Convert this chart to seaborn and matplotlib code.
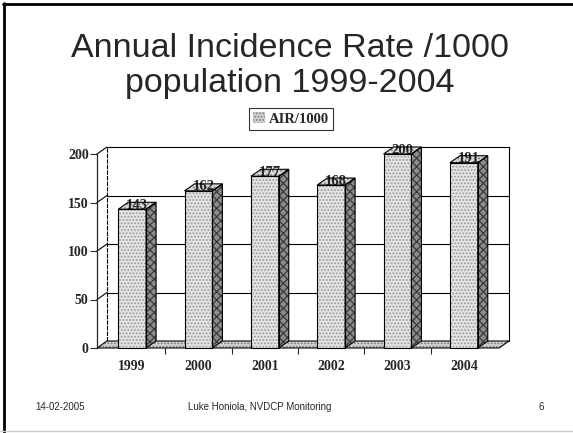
import matplotlib
matplotlib.use("Agg")
import matplotlib.pyplot as plt
from matplotlib.patches import Polygon, Rectangle, Patch
from matplotlib.lines import Line2D
from matplotlib.ticker import FixedLocator
import seaborn as sns
import pandas as pd

# Annual incidence rate per 1000 population
years = ["1999", "2000", "2001", "2002", "2003", "2004"]
air_values = [143, 162, 177, 168, 200, 191]
y_ticks = [0, 50, 100, 150, 200]
series_name = "AIR/1000"

sns.set_style("ticks")
plt.rcParams["font.family"] = ["Liberation Serif", "DejaVu Serif"]
plt.rcParams["hatch.linewidth"] = 0.9

W, H, DPI = 573, 433, 100
fig = plt.figure(figsize=(W / DPI, H / DPI), dpi=DPI)

# axes placed in pixel units
ax_left, ax_right = 97, 499
ax_bottom, ax_top = 348, 154
ax = fig.add_axes([ax_left / W, (H - ax_bottom) / H,
                   (ax_right - ax_left) / W, (ax_bottom - ax_top) / H])

df = pd.DataFrame({"year": years, "air": air_values})
sns.barplot(data=df, x="year", y="air", width=0.42, color="#e4e4e4",
            ax=ax, zorder=3)

xmin, xmax = -0.53, len(years) - 0.47
ymin, ymax = 0, 200
ax.set_xlim(xmin, xmax)
ax.set_ylim(ymin, ymax)

# depth of the 3-D box in data units (10 px right, 7 px up)
px_x = (ax_right - ax_left) / (xmax - xmin)
px_y = (ax_bottom - ax_top) / (ymax - ymin)
dx = 10 / px_x
dy = 7 / px_y

line_kw = dict(color="black", lw=0.8, clip_on=False)

# back wall: gridlines, frame and left side-wall connectors
for v in y_ticks[1:]:
    ax.plot([xmin + dx, xmax + dx], [v + dy, v + dy], zorder=1, **line_kw)
    ax.plot([xmin, xmin + dx], [v, v + dy], zorder=1, **line_kw)
ax.plot([xmin + dx, xmin + dx], [dy, ymax + dy], zorder=1, color="black",
        lw=0.8, ls=(0, (4, 1)), clip_on=False)
ax.plot([xmax + dx, xmax + dx], [dy, ymax + dy], zorder=1, **line_kw)

# floor
floor_pts = [(xmin, 0), (xmax, 0), (xmax + dx, dy), (xmin + dx, dy)]
ax.add_patch(Polygon(floor_pts, closed=True, facecolor="#d4d4d4",
                     edgecolor="#7a7a7a", hatch=".....", lw=0, zorder=2,
                     clip_on=False))
ax.add_patch(Polygon(floor_pts, closed=True, fill=False, edgecolor="black",
                     lw=0.8, zorder=2.5, clip_on=False))

# 3-D faces for each seaborn bar
for bar, val in zip(ax.patches[:len(years)], air_values):
    x0 = bar.get_x()
    w = bar.get_width()
    h = bar.get_height()
    x1 = x0 + w
    bar.set_hatch(".....")
    bar.set_edgecolor("#9a9a9a")
    bar.set_linewidth(0)
    bar.set_zorder(3)

    side = [(x1, 0), (x1 + dx, dy), (x1 + dx, h + dy), (x1, h)]
    top = [(x0, h), (x1, h), (x1 + dx, h + dy), (x0 + dx, h + dy)]
    ax.add_patch(Polygon(side, closed=True, facecolor="#8c8c8c",
                         edgecolor="#3a3a3a", hatch="xxxx", lw=0,
                         zorder=3, clip_on=False))
    ax.add_patch(Polygon(top, closed=True, facecolor="#d8d8d8",
                         edgecolor="#8a8a8a", hatch="....", lw=0,
                         zorder=3, clip_on=False))
    # outlines on top of the value labels
    for poly in (side, top):
        ax.add_patch(Polygon(poly, closed=True, fill=False,
                             edgecolor="black", lw=0.8, zorder=5,
                             clip_on=False))
    ax.add_patch(Rectangle((x0, 0), w, h, fill=False, edgecolor="black",
                           lw=0.8, zorder=5, clip_on=False))
    ax.text(x0 + w / 2 + dx / 2, h + 0.5, f"{val}", ha="center",
            va="baseline", fontsize=10.5, fontweight="bold", zorder=4)

# axes styling
for s in ["top", "right", "bottom"]:
    ax.spines[s].set_visible(False)
ax.spines["left"].set_linewidth(0.9)
ax.spines["left"].set_zorder(6)
ax.set_yticks(y_ticks)
ax.tick_params(axis="y", length=5, width=0.8, pad=1, labelsize=10)
ax.tick_params(axis="x", which="major", length=0, pad=9, labelsize=10)
ax.xaxis.set_minor_locator(FixedLocator([i + 0.5 for i in range(len(years) - 1)]))
ax.tick_params(axis="x", which="minor", length=4, width=0.8, bottom=True)
for lbl in ax.get_xticklabels() + ax.get_yticklabels():
    lbl.set_fontweight("bold")
ax.set_xlabel("")
ax.set_ylabel("")
ax.patch.set_alpha(0)

# legend
handle = Patch(facecolor="#d0d0d0", edgecolor="#808080", hatch=".....", lw=0)
leg = fig.legend([handle], [series_name], loc="center",
                 bbox_to_anchor=(291 / W, 1 - 119 / H), frameon=True,
                 fancybox=False, edgecolor="black", handlelength=0.8,
                 handleheight=0.8, handletextpad=0.3, borderpad=0.3,
                 prop={"family": "Liberation Serif", "weight": "bold",
                       "size": 10.5})
leg.get_frame().set_linewidth(0.8)

# slide title
title_kw = dict(ha="center", va="baseline", fontsize=24.5,
                family=["Liberation Sans", "DejaVu Sans"])
fig.text(290 / W, 1 - 57 / H, "Annual Incidence Rate /1000", **title_kw)
fig.text(290 / W, 1 - 92 / H, "population 1999-2004", **title_kw)

# footer
foot_kw = dict(va="center", fontsize=7, family=["Liberation Sans", "DejaVu Sans"])
fig.text(35 / W, 1 - 407 / H, "14-02-2005", ha="left", **foot_kw)
fig.text(260 / W, 1 - 407 / H, "Luke Honiola, NVDCP Monitoring", ha="center", **foot_kw)
fig.text(541 / W, 1 - 407 / H, "6", ha="center", **foot_kw)

# slide border
fig.add_artist(Line2D([3 / W, 1], [1 - 4 / H, 1 - 4 / H], color="black",
                      lw=2, transform=fig.transFigure))
fig.add_artist(Line2D([4 / W, 4 / W], [0, 1 - 3 / H], color="black",
                      lw=2, transform=fig.transFigure))
fig.add_artist(Line2D([0, 1], [2 / H, 2 / H], color="#cccccc",
                      lw=1, transform=fig.transFigure))

fig.savefig("out.png", dpi=DPI)
